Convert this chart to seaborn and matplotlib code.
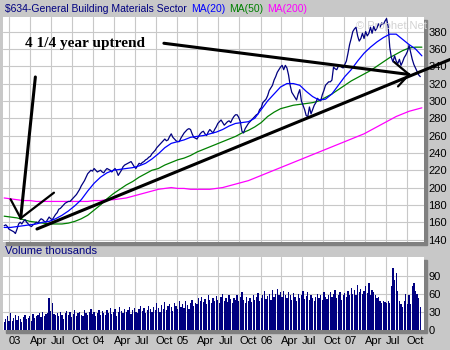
import matplotlib
matplotlib.use("Agg")
import matplotlib.pyplot as plt
import matplotlib.dates as mdates
from matplotlib.patches import Rectangle
import pandas as pd
import seaborn as sns

# Weekly closes of the sector index (first week 2002-12-11)
price = [
    156, 157, 155, 152, 151, 150, 149, 147, 152, 158,
    160, 158, 161, 163, 160, 158, 156, 155, 157, 158,
    160, 159, 162, 164, 163, 161, 160, 163, 166, 164,
    163, 166, 169, 171, 175, 176, 178, 180, 182, 183,
    184, 184, 186, 188, 190, 192, 195, 198, 202, 205,
    208, 212, 216, 218, 220, 219, 222, 220, 218, 219,
    220, 218, 217, 220, 222, 221, 220, 218, 220, 222,
    219, 214, 217, 220, 224, 226, 227, 228, 229, 230,
    227, 224, 222, 225, 228, 227, 229, 230, 232, 233,
    235, 236, 239, 241, 243, 246, 248, 250, 252, 254,
    256, 254, 255, 259, 262, 258, 256, 254, 253, 253,
    257, 260, 263, 265, 267, 268, 267, 262, 258, 257,
    256, 259, 262, 264, 265, 262, 260, 264, 267, 265,
    263, 267, 270, 274, 276, 278, 275, 272, 274, 276,
    277, 275, 279, 282, 284, 284, 281, 276, 265, 263,
    268, 271, 274, 276, 278, 280, 282, 284, 285, 290,
    292, 298, 300, 302, 306, 312, 315, 318, 324, 328,
    333, 336, 339, 341, 336, 341, 338, 330, 318, 310,
    307, 304, 301, 308, 313, 300, 295, 290, 283, 282,
    293, 285, 290, 295, 298, 303, 301, 300, 307, 312,
    318, 320, 322, 322, 324, 339, 337, 336, 340, 341,
    339, 338, 342, 346, 355, 365, 372, 380, 383, 385,
    375, 369, 372, 378, 372, 380, 375, 378, 385, 378,
    386, 381, 384, 389, 385, 390, 388, 392, 395, 386,
    362, 350, 345, 352, 346, 343, 348, 341, 345, 350,
    353, 357, 364, 356, 348, 342, 338, 334, 330, 328,
]

# Weekly volume, thousands
volume = [
    12, 18, 22,
    15, 27, 14, 20, 24, 16, 22, 18, 13, 21,
    25, 18, 20, 23, 15, 26, 19, 22, 24, 28,
    21, 30, 23, 26, 27, 53, 31, 45, 26, 24,
    28, 22, 30, 25, 18, 27, 31, 24, 29, 21,
    26, 32, 23, 28, 30, 25, 22, 33, 27, 24,
    29, 35, 26, 30, 22, 28, 33, 25, 31, 27,
    24, 32, 28, 36, 26, 30, 34, 23, 29, 37,
    31, 27, 35, 29, 33, 38, 26, 32, 36, 30,
    28, 34, 39, 31, 36, 27, 33, 40, 35, 30,
    38, 32, 44, 36, 29, 41, 35, 46, 33, 39,
    43, 37, 31, 45, 40, 34, 48, 38, 42, 36,
    47, 41, 35, 44, 50, 39, 45, 42, 52, 48,
    55, 46, 51, 43, 58, 49, 44, 53, 47, 56,
    50, 45, 54, 60, 48, 52, 46, 57, 51, 44,
    53, 49, 58, 47, 55, 62, 50, 45, 54, 48,
    52, 46, 57, 50, 55, 61, 48, 53, 58, 64,
    51, 56, 60, 49, 66, 54, 59, 68, 57, 62,
    55, 65, 58, 52, 63, 57, 50, 61, 55, 48,
    60, 53, 58, 64, 51, 56, 62, 49, 57, 53,
    47, 55, 60, 52, 58, 49, 63, 55, 51, 57,
    62, 54, 59, 66, 52, 57, 63, 50, 58, 61,
    55, 64, 58, 70, 60, 66, 57, 75, 62, 68,
    59, 65, 72, 61, 77, 58, 66, 63, 57, 53,
    55, 48, 45, 48, 46, 44, 48, 45, 73, 102,
    82, 95, 65, 48, 43, 37, 48, 60, 43, 57,
    43, 73, 77, 65, 60, 53, 37,
]

# Moving averages, sampled every four weeks from 2002-12-11
ma20 = [
    154, 154, 155, 156, 157, 158, 160, 161, 164, 168,
    173, 179, 186, 196, 205, 212, 217, 220, 221, 222,
    223, 225, 228, 233, 239, 246, 251, 253, 255, 258,
    259, 260, 262, 264, 267, 271, 274, 275, 276, 280,
    290, 300, 308, 316, 320, 320, 318, 311, 305, 301,
    302, 308, 318, 328, 336, 346, 355, 362, 368, 373,
    377, 377, 371, 365, 360, 352,
]
ma50 = [
    167, 166, 165, 163, 161, 160, 159, 158, 158, 158,
    159, 161, 164, 168, 174, 180, 187, 193, 198, 203,
    207, 212, 216, 220, 222, 226, 229, 232, 234, 237,
    241, 244, 247, 250, 253, 256, 259, 263, 266, 270,
    275, 282, 287, 291, 293, 295, 296, 297, 298, 300,
    304, 308, 313, 318, 323, 327, 331, 335, 340, 345,
    350, 354, 358, 361, 362, 362,
]
ma200 = [
    188, 187, 186, 185, 185, 184, 184, 184, 184, 184,
    184, 184, 184, 184, 185, 185, 186, 186, 187, 188,
    190, 192, 194, 196, 198, 199, 200, 199, 199, 198,
    198, 198, 198, 199, 200, 202, 204, 206, 208, 211,
    214, 217, 220, 223, 226, 229, 232, 235, 238, 241,
    244, 247, 250, 253, 256, 259, 262, 266, 270, 274,
    278, 282, 285, 288, 290, 292,
]

price_ticks = list(range(140, 381, 20))
volume_ticks = [0, 30, 60, 90]

# Hand-drawn trend lines: (date, price) pairs
uptrend = [("2003-05-03", 152.2), ("2008-04-06", 347.8)]
resistance = [("2004-11-06", 366.5), ("2007-10-10", 330.5)]
resistance_head = [("2007-08-06", 344.9), ("2007-10-10", 330.5), ("2007-08-23", 316.7)]
low_arrow = [("2003-04-26", 327.6), ("2003-02-21", 164.6)]
low_mark = [("2003-01-08", 186.5), ("2003-02-21", 164.6), ("2003-07-16", 194.1)]
caption_at = ("2003-03-11", 366.3)

weeks = pd.date_range("2002-12-11", periods=len(price), freq="7D")
ma_dates = pd.date_range("2002-12-11", periods=len(ma20), freq="28D")
xw = mdates.date2num(weeks)
xm = mdates.date2num(ma_dates)

sns.set_style("white")
plt.rcParams["font.family"] = ["Liberation Sans", "DejaVu Sans"]

BG = "#c8c8c8"
NAVY = "#000080"
GRID = "#c8c8c8"
W, H = 450, 350

fig = plt.figure(figsize=(4.5, 3.5), dpi=100, facecolor=BG)


def box(x0, y0, x1, y1):
    return [x0 / W, 1 - y1 / H, (x1 - x0) / W, (y1 - y0) / H]


def shadow(x0, y0, x1, y1, off=3):
    fig.patches.append(Rectangle(((x0 + off) / W, 1 - (y1 + off) / H),
                                 (x1 - x0) / W, (y1 - y0) / H,
                                 transform=fig.transFigure, color="#808080",
                                 zorder=-1))


shadow(3, 17, 423.5, 242)
shadow(3, 257, 423.5, 330)
ax = fig.add_axes(box(3, 17, 423.5, 242))
axv = fig.add_axes(box(3, 257, 423.5, 330))

# Price panel
sns.lineplot(x=xm, y=ma200, ax=ax, color="#ff00ff", linewidth=0.9)
sns.lineplot(x=xm, y=ma50, ax=ax, color="#008000", linewidth=0.9)
sns.lineplot(x=xw, y=price, ax=ax, color=NAVY, linewidth=0.9)
sns.lineplot(x=xm, y=ma20, ax=ax, color="#0000ff", linewidth=0.9)

# Volume panel
sns.barplot(x=xw, y=volume, ax=axv, native_scale=True, orient="x",
            width=0.8, color=NAVY, saturation=1, errorbar=None, linewidth=0)
for p in axv.patches:
    p.set_antialiased(False)

xlim = mdates.date2num(pd.to_datetime(["2002-12-06", "2007-12-12"]))
qticks = pd.date_range("2003-01-01", "2007-10-01", freq="QS")
qlabels = [f"{d:%y}" if d.month == 1 else f"{d:%b}" for d in qticks]

for a in (ax, axv):
    a.set_facecolor("white")
    a.set_xlim(*xlim)
    a.set_xticks(mdates.date2num(qticks))
    a.grid(True, color=GRID, linewidth=0.8)
    a.set_axisbelow(True)
    a.yaxis.tick_right()
    a.tick_params(length=0, labelsize=8, colors="black")
    a.tick_params(axis="y", pad=3.5)
    a.set_xlabel("")
    a.set_ylabel("")
    for s in a.spines.values():
        s.set_visible(False)

ax.set_ylim(137.2, 396.8)
ax.set_yticks(price_ticks)
ax.set_xticklabels([])

axv.set_ylim(-0.5, 121)
axv.set_yticks(volume_ticks)
axv.set_xticklabels(qlabels)
axv.tick_params(axis="x", pad=4)
for lab in axv.get_xticklabels():
    lab.set_ha("left")


def draw(points, lw):
    xs = mdates.date2num(pd.to_datetime([p[0] for p in points]))
    ys = [p[1] for p in points]
    ax.plot(xs, ys, color="black", linewidth=lw, clip_on=False,
            solid_capstyle="round", solid_joinstyle="round", zorder=6)


draw(uptrend, 2.2)
draw(resistance, 2.2)
draw(resistance_head, 1.6)
draw(low_arrow, 2.2)
draw(low_mark, 1.6)

ax.text(mdates.date2num(pd.Timestamp(caption_at[0])), caption_at[1],
        "4 1/4 year uptrend", family=["Liberation Serif", "DejaVu Serif"],
        weight="bold", fontsize=11, color="black", ha="left", va="center",
        zorder=7)

# Header strip: each piece starts just after the previous one
header = [("$634-General Building Materials Sector", NAVY),
          ("MA(20)", "#0000ff"), ("MA(50)", "#008000"),
          ("MA(200)", "#ff00ff")]
renderer = fig.canvas.get_renderer()
pos = 5
for txt, col in header:
    t = fig.text(pos / W, 1 - 8.5 / H, txt, color=col, fontsize=7.5,
                 ha="left", va="center")
    pos = t.get_window_extent(renderer).x1 + 4

fig.text(5 / W, 1 - 251 / H, "Volume thousands", color=NAVY, fontsize=8,
         ha="left", va="center")
fig.text(356 / W, 1 - 26 / H, "\u00a9 Prophet.Net", color="#d2d2d2",
         fontsize=8, ha="left", va="center")

fig.savefig("out.png", dpi=100, facecolor=BG)
